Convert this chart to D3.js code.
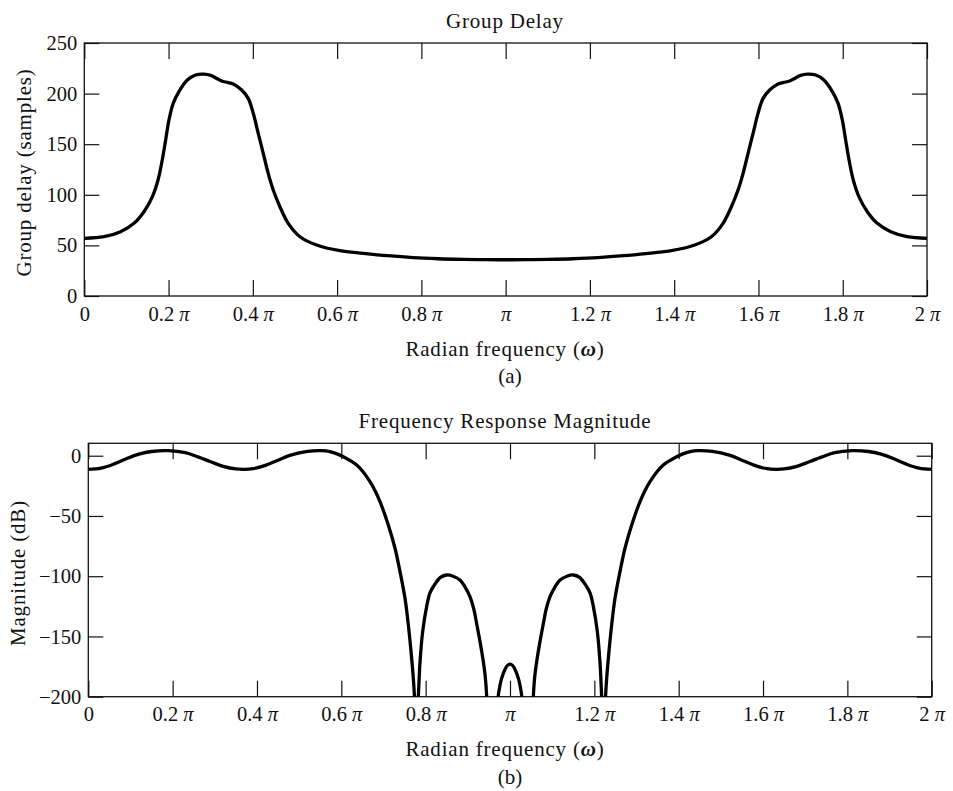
<!DOCTYPE html>
<html><head><meta charset="utf-8">
<script src="https://cdn.jsdelivr.net/npm/d3@7"></script>
<style>
body{margin:0;background:#fff}
text{font-family:"Liberation Serif","Times New Roman",serif;fill:#111}
</style>
</head><body><svg id="c" width="953" height="791"></svg>
<script>
// ---------- data ----------
const xTicks = [0,0.2,0.4,0.6,0.8,1,1.2,1.4,1.6,1.8,2];
const xTickLabels = ["0","0.2 π","0.4 π","0.6 π","0.8 π","π","1.2 π","1.4 π","1.6 π","1.8 π","2 π"];

const gdTicks = [0,50,100,150,200,250];
const gdTickLabels = ["0","50","100","150","200","250"];
const magTicks = [0,-50,-100,-150,-200];
const magTickLabels = ["0","\u221250","\u2212100","\u2212150","\u2212200"];

// group delay (samples) vs frequency (units of pi)
const gdX = [0,0.047,0.086,0.118,0.1416,0.1614,0.175,0.185,0.193,0.201,0.211,0.2247,0.2444,0.264,0.284,0.30,0.312,0.326,0.34,0.3535,0.3734,0.389,0.401,0.4128,0.4247,0.4365,0.4484,0.4643,0.484,0.5117,0.5514,0.6066,0.662,0.72,0.7805,0.84,0.899,0.95,1.0,
  1.05,1.101,1.16,1.2195,1.28,1.338,1.3934,1.4486,1.4883,1.516,1.5357,1.5516,1.5635,1.5753,1.5872,1.599,1.611,1.6266,1.6465,1.66,1.674,1.688,1.70,1.716,1.736,1.7553,1.7753,1.789,1.799,1.807,1.815,1.825,1.8386,1.8584,1.882,1.914,1.953,2.0];
const gdY = [57,58.6,63.5,71.8,83.3,98,114.6,134.4,154,174,190.4,202,213.4,218.4,219.3,218,215.5,212.5,211,209.5,203.5,195.3,180.5,160.7,141,121.2,104.7,88.2,71.8,58.6,50.4,44.8,42.2,39.8,37.9,36.8,36.2,35.9,35.8,
  35.9,36.2,36.8,37.9,39.8,42.2,44.8,50.4,58.6,71.8,88.2,104.7,121.2,141,160.7,180.5,195.3,203.5,209.5,211,212.5,215.5,218,219.3,218.4,213.4,202,190.4,174,154,134.4,114.6,98,83.3,71.8,63.5,58.6,57];

// magnitude (dB) vs frequency (units of pi); null = gap (below -200 dB)
const magX = [0,0.03,0.06,0.09,0.12,0.15,0.19,0.23,0.26,0.29,0.32,0.35,0.37,0.39,0.42,0.45,0.48,0.52,0.555,0.573,0.59,0.6047,0.62,0.6365,0.652,0.668,0.68,0.6917,0.7114,0.7273,0.7392,0.751,0.7589,0.7653,0.7707,0.7735,0.775,
  0.778,
  0.7805,0.7826,0.7865,0.7929,0.8024,0.81,0.8182,0.835,0.85,0.865,0.8814,0.8935,0.9051,0.914,0.921,0.929,0.9368,0.9415,0.9447,0.946,
  0.96,
  0.9705,0.972,0.976,0.98,0.988,0.994,1.0,1.006,1.012,1.02,1.024,1.028,1.0295,
  1.04,
  1.054,1.0553,1.0585,1.0632,1.071,1.079,1.086,1.0949,1.1065,1.1186,1.135,1.15,1.165,1.1818,1.19,1.1976,1.2071,1.2135,1.2174,1.2195,
  1.222,
  1.225,1.2265,1.2293,1.2347,1.2411,1.249,1.2608,1.2727,1.2886,1.3083,1.32,1.332,1.348,1.3635,1.38,1.3953,1.41,1.427,1.445,1.48,1.52,1.55,1.58,1.61,1.63,1.65,1.68,1.71,1.74,1.77,1.81,1.85,1.88,1.91,1.94,1.97,2.0];
const magY = [-11.3,-10.3,-7,-2.5,1.3,3.5,4.2,2.5,-1,-5,-8.8,-11,-11.3,-10.8,-8,-3.7,0.5,3.6,4.2,3.3,1.5,-0.8,-3.8,-7.7,-13.5,-21.6,-29,-38.1,-57.5,-76.8,-96.2,-118.3,-140.4,-162.5,-184.6,-200,-212,
  null,
  -212,-200,-172,-146,-125,-114,-108.7,-101,-99,-100,-103.2,-109,-117,-127,-139.5,-154.5,-171,-184,-200,-212,
  null,
  -212,-200,-191,-185,-177.5,-174,-173,-174,-177.5,-185,-191,-200,-212,
  null,
  -212,-200,-184,-171,-154.5,-139.5,-127,-117,-109,-103.2,-100,-99,-101,-108.7,-114,-125,-146,-172,-200,-212,
  null,
  -212,-200,-184.6,-162.5,-140.4,-118.3,-96.2,-76.8,-57.5,-38.1,-29,-21.6,-13.5,-7.7,-3.8,-0.8,1.5,3.3,4.2,3.6,0.5,-3.7,-8,-10.8,-11.3,-11,-8.8,-5,-1,2.5,4.2,3.5,1.3,-2.5,-7,-10.3,-11.3];

// ---------- drawing ----------
const svg = d3.select("#c");
svg.append("rect").attr("width",953).attr("height",791).attr("fill","#fff");

function piLabels(g){
  g.selectAll(".tick text").each(function(d,i){
    const t = d3.select(this);
    const lab = xTickLabels[i];
    t.text(null);
    const parts = lab.split("π");
    if (parts[0]) t.append("tspan").text(parts[0]);
    if (parts.length > 1) t.append("tspan").attr("font-style","italic").text("π");
  });
}

function panel(cfg, id){
  const {x0,x1,y0,y1} = cfg;
  const x = d3.scaleLinear().domain([0,2]).range([x0,x1]);
  const y = d3.scaleLinear().domain(cfg.yDomain).range([y1,y0]);
  const g = svg.append("g").attr("color","#111");
  const TL = 16, FS = 20.5;

  const ax = g.append("g").attr("transform",`translate(0,${y1})`)
    .call(d3.axisBottom(x).tickValues(xTicks).tickSizeInner(-TL).tickSizeOuter(0).tickPadding(10)
      .tickFormat((d,i)=>xTickLabels[i]));
  ax.select(".domain").remove();
  ax.selectAll("text").attr("font-size",FS).attr("dy","0.72em");
  piLabels(ax);
  const at = g.append("g").attr("transform",`translate(0,${y0})`)
    .call(d3.axisTop(x).tickValues(xTicks).tickSizeInner(-TL).tickSizeOuter(0).tickFormat(""));
  at.select(".domain").remove();
  const al = g.append("g").attr("transform",`translate(${x0},0)`)
    .call(d3.axisLeft(y).tickValues(cfg.yTicks).tickSizeInner(-TL+1).tickSizeOuter(0).tickPadding(7)
      .tickFormat((d,i)=>cfg.yTickLabels[i]));
  al.select(".domain").remove();
  al.selectAll("text").attr("font-size",FS);
  const ar = g.append("g").attr("transform",`translate(${x1},0)`)
    .call(d3.axisRight(y).tickValues(cfg.yTicks).tickSizeInner(-TL+1).tickSizeOuter(0).tickFormat(""));
  ar.select(".domain").remove();
  g.selectAll(".tick line").attr("stroke-width",1.2);

  g.append("rect").attr("x",x0).attr("y",y0).attr("width",x1-x0).attr("height",y1-y0)
    .attr("fill","none").attr("stroke","#111").attr("stroke-width",1.3);

  svg.append("clipPath").attr("id",id).append("rect")
    .attr("x",x0).attr("y",y0-2).attr("width",x1-x0).attr("height",y1-y0+2);
  const pts = cfg.xs.map((v,i)=>[v,cfg.ys[i]]);
  const line = d3.line().defined(d=>d[1]!==null)
    .x(d=>x(d[0])).y(d=>y(d[1])).curve(d3.curveCatmullRom.alpha(0.5));
  svg.append("path").datum(pts).attr("clip-path",`url(#${id})`)
    .attr("fill","none").attr("stroke","#000").attr("stroke-width",3.3)
    .attr("stroke-linejoin","round").attr("d",line);

  svg.append("text").attr("x",505).attr("y",cfg.titleY).attr("text-anchor","middle")
    .attr("font-size",21).attr("letter-spacing",0.8).text(cfg.title);
  const xl = svg.append("text").attr("x",505).attr("y",cfg.xlabelY).attr("text-anchor","middle")
    .attr("font-size",21).attr("letter-spacing",0.8);
  xl.append("tspan").text("Radian frequency (");
  xl.append("tspan").attr("font-style","italic").attr("font-weight","bold").text("ω");
  xl.append("tspan").text(")");
  svg.append("text").attr("x",510).attr("y",cfg.capY).attr("text-anchor","middle")
    .attr("font-size",21).text(cfg.cap);
  svg.append("text").attr("transform",`translate(${cfg.ylabX},${(y0+y1)/2+3}) rotate(-90)`)
    .attr("text-anchor","middle").attr("font-size",21).attr("letter-spacing",0.8).text(cfg.ylabel);
}

panel({x0:84.3,x1:927,y0:43,y1:296,yDomain:[0,250],yTicks:gdTicks,yTickLabels:gdTickLabels,
  xs:gdX,ys:gdY,title:"Group Delay",titleY:28,xlabelY:356,cap:"(a)",capY:383,
  ylabel:"Group delay (samples)",ylabX:31},"clipA");
panel({x0:88.3,x1:931.7,y0:443.3,y1:696.7,yDomain:[-200,10.3],yTicks:magTicks,yTickLabels:magTickLabels,
  xs:magX,ys:magY,title:"Frequency Response Magnitude",titleY:428,xlabelY:756,cap:"(b)",capY:784,
  ylabel:"Magnitude (dB)",ylabX:25},"clipB");
</script></body></html>
